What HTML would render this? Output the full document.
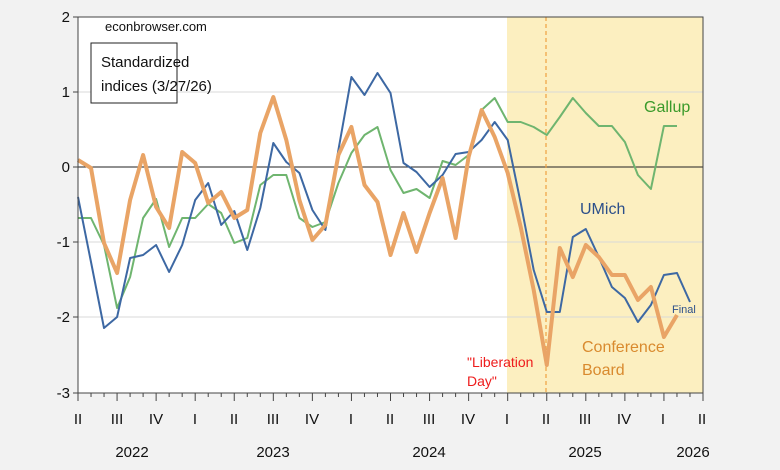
<!DOCTYPE html>
<html><head><meta charset="utf-8"><style>
html,body{margin:0;padding:0;background:#f2f2f2;}
svg{display:block;font-family:"Liberation Sans",sans-serif;}
</style></head><body>
<svg id="s" width="780" height="470" viewBox="0 0 780 470" xmlns="http://www.w3.org/2000/svg">
<rect x="0" y="0" width="780" height="470" fill="#f2f2f2"/>
<rect x="78" y="17" width="625" height="376" fill="#ffffff"/>
<rect x="507" y="17" width="196" height="376" fill="#fcefc0"/>
<g stroke="#d8d8d8" stroke-width="1">
<line x1="78" y1="92" x2="703" y2="92"/>
<line x1="78" y1="242" x2="703" y2="242"/>
<line x1="78" y1="317" x2="703" y2="317"/>
</g>
<line x1="78" y1="167" x2="703" y2="167" stroke="#222" stroke-width="1"/>
<line x1="546" y1="17" x2="546" y2="393" stroke="#f0a040" stroke-width="1.2" stroke-dasharray="4,3"/>
<g id="lines" fill="none" stroke-linejoin="round"></g>
<rect x="78" y="17" width="625" height="376" fill="none" stroke="#444" stroke-width="1"/>
<g id="ticks" stroke="#444" stroke-width="1"></g>
<g font-size="15" fill="#111" text-anchor="end">
<text x="70" y="22">2</text><text x="70" y="97">1</text><text x="70" y="172">0</text>
<text x="70" y="247">-1</text><text x="70" y="322">-2</text><text x="70" y="398">-3</text>
</g>
<g font-size="15" fill="#111" text-anchor="middle">
<text x="78" y="424">II</text><text x="117" y="424">III</text><text x="156" y="424">IV</text>
<text x="195" y="424">I</text><text x="234" y="424">II</text><text x="273" y="424">III</text>
<text x="312" y="424">IV</text><text x="351" y="424">I</text><text x="390" y="424">II</text>
<text x="429" y="424">III</text><text x="468" y="424">IV</text><text x="507" y="424">I</text>
<text x="546" y="424">II</text><text x="585" y="424">III</text><text x="624" y="424">IV</text>
<text x="663" y="424">I</text><text x="702" y="424">II</text>
<text x="132" y="457">2022</text><text x="273" y="457">2023</text><text x="429" y="457">2024</text>
<text x="585" y="457">2025</text><text x="693" y="457">2026</text>
</g>
<text x="105" y="31" font-size="13" fill="#111">econbrowser.com</text>
<rect x="91" y="43" width="86" height="60" fill="#fff" stroke="#222" stroke-width="1"/>
<text x="101" y="67" font-size="15" fill="#111">Standardized</text>
<text x="101" y="91" font-size="15" fill="#111">indices (3/27/26)</text>
<text x="644" y="112" font-size="16" fill="#3a9a2a">Gallup</text>
<text x="580" y="214" font-size="16" fill="#2c4f8a">UMich</text>
<text x="672" y="313" font-size="11" fill="#2c4f8a">Final</text>
<text x="582" y="352" font-size="16" fill="#d98a2e">Conference</text>
<text x="582" y="375" font-size="16" fill="#d98a2e">Board</text>
<text x="467" y="367" font-size="14" fill="#ee1c1c">"Liberation</text>
<text x="467" y="386" font-size="14" fill="#ee1c1c">Day"</text>
</svg>
<script>
var ns="http://www.w3.org/2000/svg";
function X(i){return 78+i*625/48;}
var cb=[160,168,243,273,200,155,207,228,152,163,203,192,218,210,133,97,140,200,240,225,155,127,185,202,255,213,252,213,178,238,157,110,137,173,227,290,365,248,277,245,257,275,275,300,287,337,315];
var um=[197,262,328,317,258,255,245,272,245,200,183,225,211,250,208,143,162,173,210,230,150,77,95,73,93,163,172,187,175,154,152,140,122,140,203,270,312,312,237,229,257,287,298,322,305,275,273,302];
var ga=[218,218,245,308,277,218,199,247,218,218,204,213,243,238,185,175,175,218,227,222,183,153,135,127,170,193,189,198,161,165,155,110,98,122,122,127,135,117,98,113,126,126,142,175,189,126,126];
function pl(d,c,w){var p=document.createElementNS(ns,"polyline");p.setAttribute("points",d.map(function(y,i){return X(i).toFixed(1)+","+y;}).join(" "));p.setAttribute("stroke",c);p.setAttribute("stroke-width",w);document.getElementById("lines").appendChild(p);}
pl(ga,"#6fb56f",2);
pl(um,"#3d68a3",2);
pl(cb,"#e9a466",4);
var t=document.getElementById("ticks");
for(var i=0;i<=48;i++){var l=document.createElementNS(ns,"line");var x=X(i);l.setAttribute("x1",x);l.setAttribute("x2",x);l.setAttribute("y1",393);l.setAttribute("y2",i%3==0?401:397);t.appendChild(l);}
[17,92,167,242,317,393].forEach(function(y){var l=document.createElementNS(ns,"line");l.setAttribute("x1",73);l.setAttribute("x2",78);l.setAttribute("y1",y);l.setAttribute("y2",y);t.appendChild(l);});
</script>
</body></html>
